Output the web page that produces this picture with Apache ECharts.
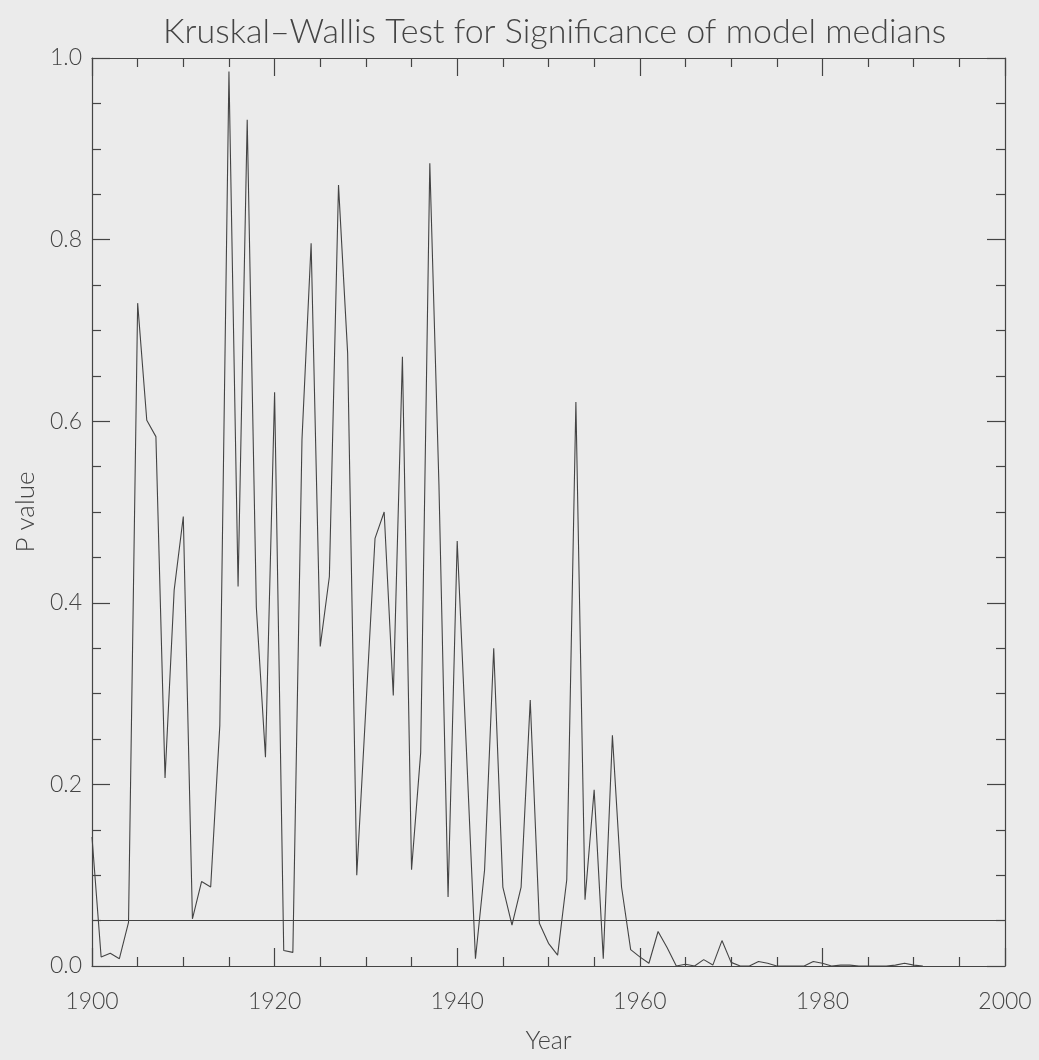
<!DOCTYPE html>
<html>
<head>
<meta charset="utf-8">
<script src="https://cdn.jsdelivr.net/npm/echarts@6/dist/echarts.min.js"></script>
<style>
html,body{margin:0;padding:0;background:#ebebeb;}
#chart{width:1039px;height:1060px;}
</style>
</head>
<body>
<div id="chart"></div>
<script>
const years = [1900,1901,1902,1903,1904,1905,1906,1907,1908,1909,
  1910,1911,1912,1913,1914,1915,1916,1917,1918,1919,
  1920,1921,1922,1923,1924,1925,1926,1927,1928,1929,
  1930,1931,1932,1933,1934,1935,1936,1937,1938,1939,
  1940,1941,1942,1943,1944,1945,1946,1947,1948,1949,
  1950,1951,1952,1953,1954,1955,1956,1957,1958,1959,
  1960,1961,1962,1963,1964,1965,1966,1967,1968,1969,
  1970,1971,1972,1973,1974,1975,1976,1977,1978,1979,
  1980,1981,1982,1983,1984,1985,1986,1987,1988,1989,
  1990,1991];
const pValues = [0.142,0.010,0.014,0.008,0.048,0.730,0.601,0.583,0.207,0.414,
  0.495,0.052,0.093,0.087,0.265,0.985,0.418,0.932,0.395,0.230,
  0.632,0.017,0.015,0.580,0.796,0.352,0.429,0.860,0.675,0.100,
  0.285,0.471,0.500,0.298,0.671,0.106,0.235,0.884,0.530,0.076,
  0.468,0.240,0.008,0.106,0.350,0.087,0.045,0.087,0.293,0.047,
  0.025,0.012,0.095,0.621,0.073,0.194,0.008,0.254,0.087,0.018,
  0.010,0.003,0.038,0.020,0.000,0.002,0.000,0.007,0.001,0.028,
  0.004,0.000,0.000,0.005,0.003,0.000,0.000,0.000,0.000,0.005,
  0.003,0.000,0.001,0.001,0.000,0.000,0.000,0.000,0.001,0.003,
  0.001,0.000];
const threshold = 0.05;
const xTicks = {min: 1900, max: 2000, interval: 20};
const yTicks = {min: 0, max: 1.0, interval: 0.2};
const titleText = 'Kruskal\u2013Wallis Test for Significance of model medians';
const xName = 'Year';
const yName = 'P value';

const chart = echarts.init(document.getElementById('chart'), null, {renderer: 'canvas'});
const ink = '#444';
const font = 'Lato, "DejaVu Sans", sans-serif';
const axisCommon = {
  axisLine: {show: true, onZero: false, lineStyle: {color: ink, width: 1.2}},
  axisTick: {show: true, inside: true, length: 18, lineStyle: {color: ink, width: 1.2}},
  minorTick: {show: true, splitNumber: 4, length: 9, lineStyle: {color: ink, width: 1.2}},
  splitLine: {show: false},
  minorSplitLine: {show: false}
};
const data = years.map((y, i) => [y, pValues[i]]);

chart.setOption({
  backgroundColor: '#ebebeb',
  animation: false,
  title: {
    text: titleText, left: 158, top: 10,
    textStyle: {fontFamily: font, fontWeight: 300, fontSize: 34, color: ink}
  },
  grid: {left: 92, right: 34, top: 58, bottom: 94},
  xAxis: [
    Object.assign({
      type: 'value', position: 'bottom', min: xTicks.min, max: xTicks.max, interval: xTicks.interval,
      name: xName, nameLocation: 'middle', nameGap: 62,
      nameTextStyle: {fontFamily: font, fontWeight: 300, fontSize: 25, color: ink},
      axisLabel: {fontFamily: font, fontWeight: 300, fontSize: 23, color: ink, margin: 24,
        formatter: v => String(v)}
    }, axisCommon),
    Object.assign({
      type: 'value', position: 'top', min: xTicks.min, max: xTicks.max, interval: xTicks.interval,
      axisLabel: {show: false}
    }, axisCommon)
  ],
  yAxis: [
    Object.assign({
      type: 'value', position: 'left', min: yTicks.min, max: yTicks.max, interval: yTicks.interval,
      name: yName, nameLocation: 'middle', nameGap: 50, nameRotate: 90,
      nameTextStyle: {fontFamily: font, fontWeight: 300, fontSize: 26, color: ink},
      axisLabel: {fontFamily: font, fontWeight: 300, fontSize: 23, color: ink, margin: 10,
        formatter: v => v.toFixed(1)}
    }, axisCommon),
    Object.assign({
      type: 'value', position: 'right', min: yTicks.min, max: yTicks.max, interval: yTicks.interval,
      axisLabel: {show: false}
    }, axisCommon)
  ],
  series: [{
    type: 'line', xAxisIndex: 0, yAxisIndex: 0, data: data,
    symbol: 'none', lineStyle: {color: ink, width: 1.1},
    markLine: {
      silent: true, symbol: ['none', 'none'], label: {show: false},
      lineStyle: {color: ink, width: 1.2, type: 'solid'},
      data: [{yAxis: threshold}]
    }
  }]
});
</script>
</body>
</html>
